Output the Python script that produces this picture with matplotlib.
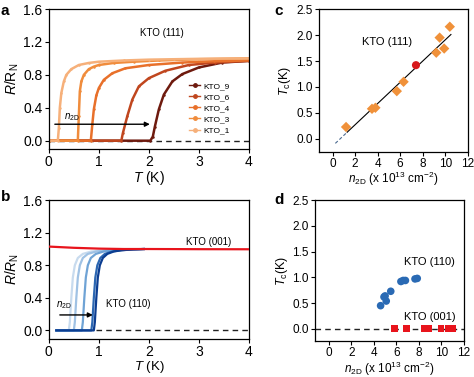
import matplotlib
matplotlib.use("Agg")
import matplotlib.pyplot as plt

plt.rcParams['font.family'] = ['Liberation Sans', 'DejaVu Sans']
plt.rcParams['mathtext.fontset'] = 'custom'
plt.rcParams['mathtext.rm'] = 'Liberation Sans'
plt.rcParams['mathtext.it'] = 'Liberation Sans:italic'
plt.rcParams['mathtext.bf'] = 'Liberation Sans:bold'

# ---------- Panel a data: KTO(111) R/RN vs T ----------
a_names = ["KTO_9", "KTO_6", "KTO_4", "KTO_3", "KTO_1"]
a_T9 = [0, 2.03, 2.08, 2.12, 2.2, 2.3, 2.47, 2.67, 3.0, 3.47, 4.0]
a_R9 = [0, 0, 0.05, 0.17, 0.38, 0.56, 0.72, 0.81, 0.89, 0.95, 0.97]
a_T6 = [0, 1.45, 1.48, 1.57, 1.67, 1.8, 2.0, 2.33, 2.8, 3.33, 4.0]
a_R6 = [0, 0, 0.09, 0.30, 0.50, 0.66, 0.76, 0.85, 0.92, 0.95, 0.97]
a_T4 = [0, 0.84, 0.87, 0.9, 0.95, 1.0, 1.1, 1.27, 1.53, 2.0, 2.67, 3.3, 4.0]
a_R4 = [0, 0, 0.2, 0.38, 0.55, 0.64, 0.74, 0.82, 0.88, 0.92, 0.95, 0.965, 0.975]
a_T3 = [0, 0.58, 0.6, 0.62, 0.65, 0.7, 0.8, 0.9, 1.0, 1.3, 1.7, 2.2, 3.0, 4.0]
a_R3 = [0, 0, 0.3, 0.6, 0.72, 0.8, 0.87, 0.9, 0.92, 0.945, 0.96, 0.975, 0.99, 1.0]
a_T1 = [0, 0.18, 0.2, 0.22, 0.25, 0.3, 0.35, 0.45, 0.6, 0.8, 1.0, 1.5, 2.0, 2.5, 3.0, 4.0]
a_R1 = [0, 0, 0.15, 0.4, 0.58, 0.72, 0.8, 0.87, 0.92, 0.945, 0.96, 0.975, 0.985, 0.99, 0.995, 1.0]
a_colors = ["#6e1a0e", "#c0461e", "#e8702a", "#f08c3c", "#f6b07a"]

# ---------- Panel b data: KTO(110) and KTO(001) ----------
b001_T = [0, 0.5, 1.0, 1.5, 2.0, 3.0, 4.0]
b001_R = [1.03, 1.015, 1.005, 1.0, 1.0, 0.998, 0.997]
b_T1 = [0.15, 0.40, 0.42, 0.45, 0.48, 0.52, 0.58, 0.68, 0.85, 1.1, 1.5, 1.9]
b_T2 = [0.15, 0.50, 0.52, 0.55, 0.58, 0.62, 0.68, 0.78, 0.95, 1.2, 1.55, 1.9]
b_T3 = [0.15, 0.66, 0.68, 0.71, 0.74, 0.78, 0.84, 0.94, 1.1, 1.3, 1.6, 1.9]
b_T4 = [0.15, 0.85, 0.87, 0.90, 0.93, 0.97, 1.03, 1.12, 1.27, 1.44, 1.66, 1.9]
b_T5 = [0.15, 0.90, 0.92, 0.95, 0.98, 1.02, 1.08, 1.17, 1.30, 1.46, 1.68, 1.9]
b_R = [0, 0, 0.1, 0.4, 0.65, 0.8, 0.89, 0.94, 0.97, 0.985, 0.995, 1.0]
b_colors = ["#c8dbee", "#a0c2e4", "#6fa3d5", "#2c67b2", "#0b3d91"]

# ---------- Panel c data: Tc vs n2D for KTO(111) ----------
c_n = [1.2, 3.5, 3.8, 5.7, 6.3, 9.2, 9.5, 9.9, 10.4]
c_Tc = [0.23, 0.58, 0.60, 0.92, 1.10, 1.66, 1.95, 1.74, 2.16]
c_red_n = [7.4]
c_red_Tc = [1.42]
c_fit_x = [1.3, 10.5]
c_fit_y = [0.13, 2.01]
c_ext_x = [0.25, 1.3]
c_ext_y = [-0.085, 0.13]

# ---------- Panel d data ----------
d110_n = [4.6, 4.9, 5.0, 5.1, 5.5, 6.4, 6.6, 6.8, 7.65, 7.85]
d110_Tc = [0.45, 0.62, 0.64, 0.54, 0.73, 0.92, 0.94, 0.94, 0.97, 0.98]
d001_n = [5.8, 6.9, 8.5, 8.7, 8.9, 9.95, 10.6, 10.8, 11.0]
d001_Tc = [0, 0, 0, 0, 0, 0, 0, 0, 0]

fig = plt.figure(figsize=(4.74, 3.77), dpi=100)
ax_a = fig.add_axes([0.103, 0.605, 0.422, 0.371])
ax_c = fig.add_axes([0.673, 0.597, 0.314, 0.379])
ax_b = fig.add_axes([0.103, 0.102, 0.422, 0.367])
ax_d = fig.add_axes([0.665, 0.095, 0.314, 0.374])

for ax in (ax_a, ax_b, ax_c, ax_d):
    for s in ax.spines.values():
        s.set_linewidth(0.9)
    ax.tick_params(direction='out', length=3, width=0.8, pad=1.5)

# Panel a
ax_a.plot([0, 4], [0, 0], ls=(0, (4, 3)), color='#222222', lw=1.0, zorder=1)
a_T = [a_T9, a_T6, a_T4, a_T3, a_T1]
a_R = [a_R9, a_R6, a_R4, a_R3, a_R1]
for T, R, c, nm in zip(a_T, a_R, a_colors, a_names):
    ax_a.plot(T, R, color=c, lw=1.8, marker='o', ms=0.8, label=nm, zorder=2)
ax_a.set_xlim(0, 4)
ax_a.set_ylim(-0.1, 1.6)
ax_a.set_xticks([0, 1, 2, 3, 4])
ax_a.set_yticks([0.0, 0.4, 0.8, 1.2, 1.6])
ax_a.set_yticklabels(["0.0", "0.4", "0.8", "1.2", "1.6"])
ax_a.tick_params(labelsize=10)
ax_a.set_xlabel(r"$T$ (K)", fontsize=10, labelpad=0)
ax_a.set_ylabel(r"$R$/R$_\mathrm{N}$", fontsize=10, labelpad=2)
ax_a.text(2.27, 1.31, "KTO (111)", fontsize=7, ha='center', va='center')
ax_a.annotate("", xy=(2.02, 0.2), xytext=(0.12, 0.2),
              arrowprops=dict(arrowstyle='-|>', color='black', lw=1.0,
                              mutation_scale=7, shrinkA=0, shrinkB=0))
ax_a.text(0.3, 0.29, r"$n_\mathrm{2D}$", fontsize=7, ha='left', va='center')
leg = ax_a.legend(loc='upper left', bbox_to_anchor=(0.67, 0.52), frameon=False,
                  fontsize=6, handlelength=1.4, handletextpad=0.4,
                  labelspacing=0.4, borderpad=0.2)
for h in leg.legend_handles:
    h.set_linewidth(1.0)
    h.set_markersize(2.5)

# Panel b
ax_b.plot([0.95, 4], [0, 0], ls=(0, (4, 3)), color='#222222', lw=1.0, zorder=1)
for T, c in zip([b_T1, b_T2, b_T3, b_T4, b_T5], b_colors):
    ax_b.plot(T, b_R, color=c, lw=1.6, zorder=2)
ax_b.plot(b001_T, b001_R, color='#e8141c', lw=1.6, zorder=3)
ax_b.set_xlim(0, 4)
ax_b.set_ylim(-0.1, 1.6)
ax_b.set_xticks([0, 1, 2, 3, 4])
ax_b.set_yticks([0.0, 0.4, 0.8, 1.2, 1.6])
ax_b.set_yticklabels(["0.0", "0.4", "0.8", "1.2", "1.6"])
ax_b.tick_params(labelsize=10)
ax_b.set_xlabel(r"$T$ (K)", fontsize=9.5, labelpad=0)
ax_b.set_ylabel(r"$R/R_\mathrm{N}$", fontsize=10, labelpad=2)
ax_b.text(3.2, 1.09, "KTO (001)", fontsize=7, ha='center', va='center')
ax_b.text(1.14, 0.33, "KTO (110)", fontsize=7, ha='left', va='center')
ax_b.annotate("", xy=(0.88, 0.19), xytext=(0.22, 0.19),
              arrowprops=dict(arrowstyle='-|>', color='black', lw=1.0,
                              mutation_scale=7, shrinkA=0, shrinkB=0))
ax_b.text(0.14, 0.31, r"$n_\mathrm{2D}$", fontsize=7, ha='left', va='center')

# Panel c
ax_c.plot(c_fit_x, c_fit_y, color='black', lw=0.8, zorder=2)
ax_c.plot(c_ext_x, c_ext_y, color='#4a6a90', lw=0.8, ls=(0, (3, 2)), zorder=2)
ax_c.scatter(c_n, c_Tc, marker='D', s=28, color='#f0913a', edgecolors='none', zorder=3)
ax_c.scatter(c_red_n, c_red_Tc, marker='o', s=34, color='#d7191c', edgecolors='none', zorder=3)
ax_c.set_xlim(-1.2, 12)
ax_c.set_ylim(-0.25, 2.5)
ax_c.set_xticks([0, 2, 4, 6, 8, 10, 12])
ax_c.set_yticks([0.0, 0.5, 1.0, 1.5, 2.0, 2.5])
ax_c.set_yticklabels(["0.0", "0.5", "1.0", "1.5", "2.0", "2.5"])
ax_c.tick_params(labelsize=8.5)
ax_c.set_xlabel(r"$n_\mathrm{2D}$ (x 10$^{13}$ cm$^{-2}$)", fontsize=8.5, labelpad=0)
ax_c.set_ylabel(r"$T_\mathrm{c}$(K)", fontsize=9, labelpad=2)
ax_c.text(4.8, 1.87, "KTO (111)", fontsize=8, ha='center', va='center')

# Panel d
ax_d.plot([-1.2, 12], [0, 0], ls=(0, (4, 3)), color='#222222', lw=1.0, zorder=1)
ax_d.scatter(d110_n, d110_Tc, marker='o', s=30, color='#2a6ab4', edgecolors='none', zorder=3)
ax_d.scatter(d001_n, d001_Tc, marker='s', s=24, color='#e8141c', edgecolors='none', zorder=3)
ax_d.set_xlim(-1.2, 12)
ax_d.set_ylim(-0.24, 2.5)
ax_d.set_xticks([0, 2, 4, 6, 8, 10, 12])
ax_d.set_yticks([0.0, 0.5, 1.0, 1.5, 2.0, 2.5])
ax_d.set_yticklabels(["0.0", "0.5", "1.0", "1.5", "2.0", "2.5"])
ax_d.tick_params(labelsize=8.5)
ax_d.set_xlabel(r"$n_\mathrm{2D}$ (x 10$^{13}$ cm$^{-2}$)", fontsize=8.5, labelpad=0)
ax_d.set_ylabel(r"$T_\mathrm{c}$(K)", fontsize=9, labelpad=2)
ax_d.text(8.9, 1.3, "KTO (110)", fontsize=8, ha='center', va='center')
ax_d.text(9.0, 0.23, "KTO (001)", fontsize=8, ha='center', va='center')

# Panel letters
fig.text(0.002, 0.99, "a", fontsize=11, fontweight='bold', ha='left', va='top')
fig.text(0.578, 0.99, "c", fontsize=11, fontweight='bold', ha='left', va='top')
fig.text(0.002, 0.495, "b", fontsize=11, fontweight='bold', ha='left', va='top')
fig.text(0.578, 0.487, "d", fontsize=11, fontweight='bold', ha='left', va='top')

fig.savefig("out.png", dpi=100)
